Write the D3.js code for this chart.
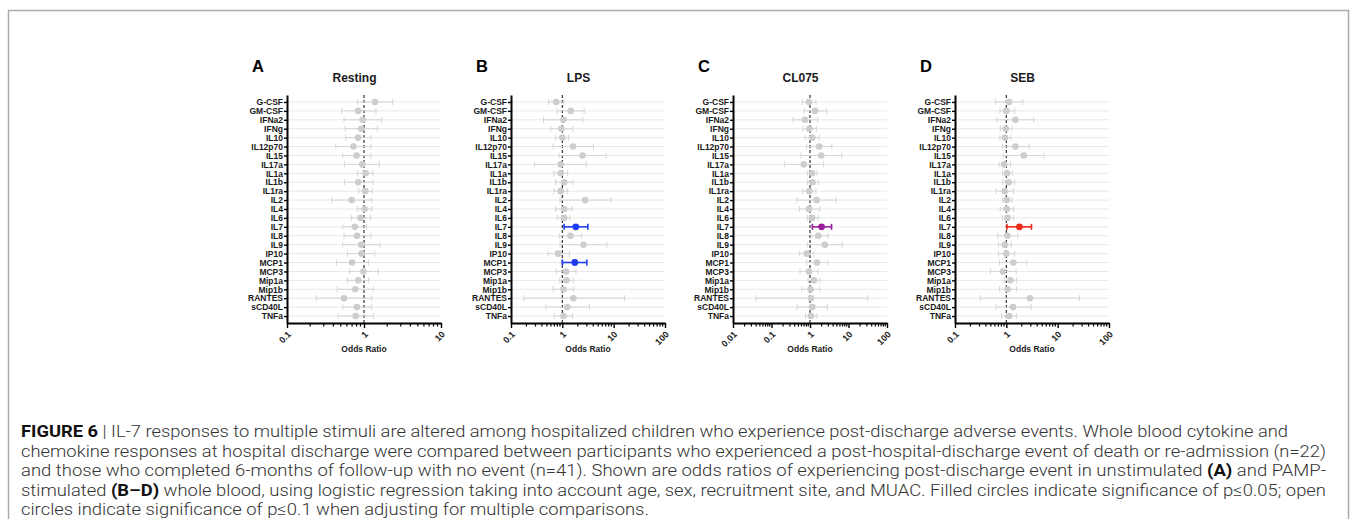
<!DOCTYPE html>
<html>
<head>
<meta charset="utf-8">
<script src="https://cdn.jsdelivr.net/npm/d3@7"></script>
<style>
  body { margin: 0; background: #fff; }
  svg { display: block; }
  .lbl { font-family: "Liberation Sans", Arial, sans-serif; font-weight: bold; fill: #1a1a1a; }
  .cap { font-family: Roboto, "Liberation Sans", sans-serif; font-size: 16.5px; font-weight: 300; fill: #333; }
</style>
</head>
<body>
<div id="chart"></div>
<script>
// rows, top to bottom
const cytokines = ["G-CSF", "GM-CSF", "IFNa2", "IFNg", "IL10", "IL12p70", "IL15", "IL17a", "IL1a", "IL1b",
  "IL1ra", "IL2", "IL4", "IL6", "IL7", "IL8", "IL9", "IP10", "MCP1", "MCP3", "Mip1a", "Mip1b", "RANTES", "sCD40L", "TNFa"];

// A - Resting
const restingOR   = [1.39, 0.84, 0.96, 0.92, 0.84, 0.73, 0.80, 0.95, 1.05, 0.84, 1.04, 0.69, 1.02, 0.90, 0.76, 0.81, 0.92, 0.93, 0.70, 0.98, 0.84, 0.77, 0.55, 0.81, 0.78];
const restingLow  = [0.82, 0.51, 0.55, 0.57, 0.58, 0.43, 0.53, 0.56, 0.82, 0.56, 0.85, 0.38, 0.82, 0.69, 0.53, 0.55, 0.53, 0.61, 0.44, 0.65, 0.61, 0.45, 0.24, 0.53, 0.46];
const restingHigh = [2.36, 1.43, 1.70, 1.49, 1.23, 1.23, 1.23, 1.58, 1.31, 1.31, 1.30, 1.26, 1.27, 1.22, 1.08, 1.23, 1.61, 1.38, 1.14, 1.54, 1.15, 1.32, 1.26, 1.26, 1.32];

// B - LPS
const lpsOR   = [0.76, 1.46, 1.05, 0.96, 1.00, 1.62, 2.47, 0.93, 0.93, 1.09, 0.93, 2.78, 1.08, 1.08, 1.83, 1.44, 2.58, 0.82, 1.75, 1.18, 1.20, 1.05, 1.64, 1.25, 1.05];
const lpsLow  = [0.54, 0.79, 0.43, 0.59, 0.74, 0.66, 0.86, 0.29, 0.68, 0.74, 0.68, 0.90, 0.74, 0.79, 1.08, 0.87, 0.90, 0.52, 1.00, 0.76, 0.89, 0.66, 0.18, 0.48, 0.69];
const lpsHigh = [1.08, 2.66, 2.51, 1.60, 1.33, 4.05, 7.08, 2.91, 1.27, 1.60, 1.27, 8.87, 1.55, 1.41, 3.14, 2.39, 7.40, 1.37, 3.00, 1.85, 1.64, 1.67, 16.2, 3.38, 1.57];

// C - CL075
const cl075OR   = [0.94, 1.35, 0.74, 0.96, 1.15, 1.74, 1.96, 0.69, 1.13, 1.17, 0.96, 1.49, 0.94, 1.13, 2.00, 1.64, 2.44, 0.82, 1.52, 0.94, 1.27, 1.04, 1.06, 1.15, 1.06];
const cl075Low  = [0.63, 0.70, 0.36, 0.65, 0.74, 0.82, 0.58, 0.22, 0.85, 0.85, 0.65, 0.46, 0.53, 0.85, 1.15, 1.06, 0.85, 0.54, 0.82, 0.55, 0.90, 0.61, 0.039, 0.46, 0.77];
const cl075High = [1.43, 2.70, 1.58, 1.46, 1.74, 3.71, 6.72, 2.26, 1.52, 1.68, 1.43, 4.80, 1.81, 1.64, 3.63, 2.98, 6.86, 1.27, 2.92, 1.61, 1.81, 1.81, 31.6, 2.81, 1.52];

// D - SEB
const sebOR   = [1.13, 1.00, 1.50, 0.98, 0.94, 1.50, 2.19, 0.91, 1.03, 1.11, 0.93, 1.02, 1.02, 1.05, 1.80, 1.05, 0.93, 1.00, 1.37, 0.86, 1.20, 1.06, 2.87, 1.35, 1.13];
const sebLow  = [0.61, 0.75, 0.65, 0.76, 0.75, 0.84, 0.87, 0.72, 0.84, 0.86, 0.63, 0.84, 0.76, 0.84, 1.03, 0.68, 0.70, 0.70, 0.74, 0.49, 0.91, 0.74, 0.31, 0.63, 0.81];
const sebHigh = [2.09, 1.46, 3.44, 1.29, 1.23, 2.78, 5.40, 1.20, 1.31, 1.46, 1.39, 1.29, 1.39, 1.39, 3.09, 1.67, 1.25, 1.46, 2.50, 1.55, 1.59, 1.59, 26.6, 3.04, 1.59];

// significant rows per panel
const restingSig = [];
const lpsSig = ["IL7", "MCP1"];
const cl075Sig = ["IL7"];
const sebSig = ["IL7"];

// x tick labels per panel
const restingTicks = [0.1, 1, 10];
const lpsTicks = [0.1, 1, 10, 100];
const cl075Ticks = [0.01, 0.1, 1, 10, 100];
const sebTicks = [0.1, 1, 10, 100];

const panelLetters = ["A", "B", "C", "D"];
const panelTitles = ["Resting", "LPS", "CL075", "SEB"];

const captionLines = [
  [["FIGURE 6", true], [" | IL-7 responses to multiple stimuli are altered among hospitalized children who experience post-discharge adverse events. Whole blood cytokine and", false]],
  [["chemokine responses at hospital discharge were compared between participants who experienced a post-hospital-discharge event of death or re-admission (n=22)", false]],
  [["and those who completed 6-months of follow-up with no event (n=41). Shown are odds ratios of experiencing post-discharge event in unstimulated ", false], ["(A)", true], [" and PAMP-", false]],
  [["stimulated ", false], ["(B\u2013D)", true], [" whole blood, using logistic regression taking into account age, sex, recruitment site, and MUAC. Filled circles indicate significance of p\u22640.05; open", false]],
  [["circles indicate significance of p\u22640.1 when adjusting for multiple comparisons.", false]]
];
const captionWidths = [1267, 1305, 1305, 1305, null];

// layout
const W = 1356, H = 519;
const plotTop = 95, plotBottom = 323, axisLen = 154;
const panelLeft = [287, 511, 733, 955];

const panels = [
  { or: restingOR, lo: restingLow, hi: restingHigh, sig: restingSig, ticks: restingTicks, color: "#888" },
  { or: lpsOR, lo: lpsLow, hi: lpsHigh, sig: lpsSig, ticks: lpsTicks, color: "#1e3cf2" },
  { or: cl075OR, lo: cl075Low, hi: cl075High, sig: cl075Sig, ticks: cl075Ticks, color: "#9a1f9c" },
  { or: sebOR, lo: sebLow, hi: sebHigh, sig: sebSig, ticks: sebTicks, color: "#ee2a1c" }
];

const svg = d3.select('#chart').append('svg').attr('width', W).attr('height', H);

// figure frame
svg.append('rect')
  .attr('x', 8.5).attr('y', 10.5).attr('width', 1340).attr('height', 540)
  .attr('fill', 'none').attr('stroke', '#aaa').attr('stroke-width', 1.5);

const yScale = d3.scalePoint().domain(cytokines).range([plotTop, plotBottom]).padding(0.78);

panels.forEach((p, k) => {
  const left = panelLeft[k];
  const xScale = d3.scaleLog()
    .domain([p.ticks[0], p.ticks[p.ticks.length - 1]])
    .range([left, left + axisLen]);
  const g = svg.append('g');

  const rows = cytokines.map((c, i) => ({ name: c, or: p.or[i], lo: p.lo[i], hi: p.hi[i], sig: p.sig.includes(c) }));

  // row guide lines
  g.selectAll('.grid').data(cytokines).join('line')
    .attr('class', 'grid')
    .attr('x1', left).attr('x2', left + axisLen)
    .attr('y1', d => yScale(d)).attr('y2', d => yScale(d))
    .attr('stroke', '#e8e8e8').attr('stroke-width', 1);

  // reference line at OR = 1
  g.append('line')
    .attr('x1', xScale(1)).attr('x2', xScale(1))
    .attr('y1', plotTop).attr('y2', plotBottom)
    .attr('stroke', '#333').attr('stroke-width', 1.2).attr('stroke-dasharray', '3,2');

  // error bars: grey first, coloured on top
  const ordered = rows.filter(d => !d.sig).concat(rows.filter(d => d.sig));
  const bars = g.selectAll('.row').data(ordered).join('g').attr('class', 'row');
  const col = d => d.sig ? p.color : '#d6d6d6';
  const sw = d => d.sig ? 1.6 : 1;

  bars.append('line')
    .attr('x1', d => xScale(d.lo)).attr('x2', d => xScale(d.hi))
    .attr('y1', d => yScale(d.name)).attr('y2', d => yScale(d.name))
    .attr('stroke', col).attr('stroke-width', sw);
  bars.append('line')
    .attr('x1', d => xScale(d.lo)).attr('x2', d => xScale(d.lo))
    .attr('y1', d => yScale(d.name) - 3).attr('y2', d => yScale(d.name) + 3)
    .attr('stroke', col).attr('stroke-width', sw);
  bars.append('line')
    .attr('x1', d => xScale(d.hi)).attr('x2', d => xScale(d.hi))
    .attr('y1', d => yScale(d.name) - 3).attr('y2', d => yScale(d.name) + 3)
    .attr('stroke', col).attr('stroke-width', sw);
  bars.append('circle')
    .attr('cx', d => xScale(d.or)).attr('cy', d => yScale(d.name))
    .attr('r', d => d.sig ? 3.4 : 3.3)
    .attr('fill', d => d.sig ? p.color : '#cdcdcd');

  // y axis
  const yAxis = d3.axisLeft(yScale).tickSize(3).tickSizeOuter(0).tickPadding(1);
  const yg = g.append('g').attr('transform', `translate(${left},0)`).call(yAxis);
  yg.select('.domain').attr('stroke', '#000').attr('stroke-width', 2);
  yg.selectAll('.tick line').attr('stroke', '#000').attr('stroke-width', 1.4);
  yg.selectAll('.tick text').attr('class', 'lbl').style('font-size', '8.5px');

  // x axis, major ticks
  const xAxis = d3.axisBottom(xScale).tickValues(p.ticks).tickFormat(d3.format('~g')).tickSize(5).tickSizeOuter(0);
  const xg = g.append('g').attr('transform', `translate(0,${plotBottom})`).call(xAxis);
  xg.select('.domain').attr('stroke', '#000').attr('stroke-width', 2);
  xg.selectAll('.tick line').attr('stroke', '#000').attr('stroke-width', 1.4);
  xg.selectAll('.tick text')
    .attr('class', 'lbl').style('font-size', '9px')
    .attr('y', 0).attr('dy', 0)
    .attr('text-anchor', 'end')
    .attr('transform', 'translate(4,12) rotate(-45)');

  // minor ticks
  const minor = xScale.ticks().filter(v => !p.ticks.includes(v));
  g.selectAll('.minor').data(minor).join('line')
    .attr('class', 'minor')
    .attr('x1', d => xScale(d)).attr('x2', d => xScale(d))
    .attr('y1', plotBottom).attr('y2', plotBottom + 3.5)
    .attr('stroke', '#000').attr('stroke-width', 1.2);

  // axis title
  g.append('text').attr('class', 'lbl')
    .attr('x', left + axisLen / 2).attr('y', 352)
    .attr('text-anchor', 'middle').style('font-size', '8.5px')
    .text('Odds Ratio');

  // panel title and letter
  g.append('text').attr('class', 'lbl')
    .attr('x', left + axisLen / 2 - 9.5).attr('y', 82)
    .attr('text-anchor', 'middle').style('font-size', '12px')
    .text(panelTitles[k]);
  g.append('text').attr('class', 'lbl')
    .attr('x', left - 35).attr('y', 72)
    .style('font-size', '16.5px').style('fill', '#000')
    .text(panelLetters[k]);
});

// caption
const capY = [437, 456.5, 476, 495.5, 515];
let ratio = 1;
captionLines.forEach((segs, i) => {
  const t = svg.append('text').attr('class', 'cap').attr('x', 21).attr('y', capY[i]);
  segs.forEach(s => {
    t.append('tspan').text(s[0])
      .style('font-weight', s[1] ? 'bold' : null)
      .style('fill', s[1] ? '#111' : null);
  });
  const natural = t.node().getComputedTextLength();
  if (captionWidths[i]) {
    ratio = captionWidths[i] / natural;
    t.attr('textLength', captionWidths[i]).attr('lengthAdjust', 'spacingAndGlyphs');
  } else {
    t.attr('textLength', natural * ratio).attr('lengthAdjust', 'spacingAndGlyphs');
  }
});
</script>
</body>
</html>
